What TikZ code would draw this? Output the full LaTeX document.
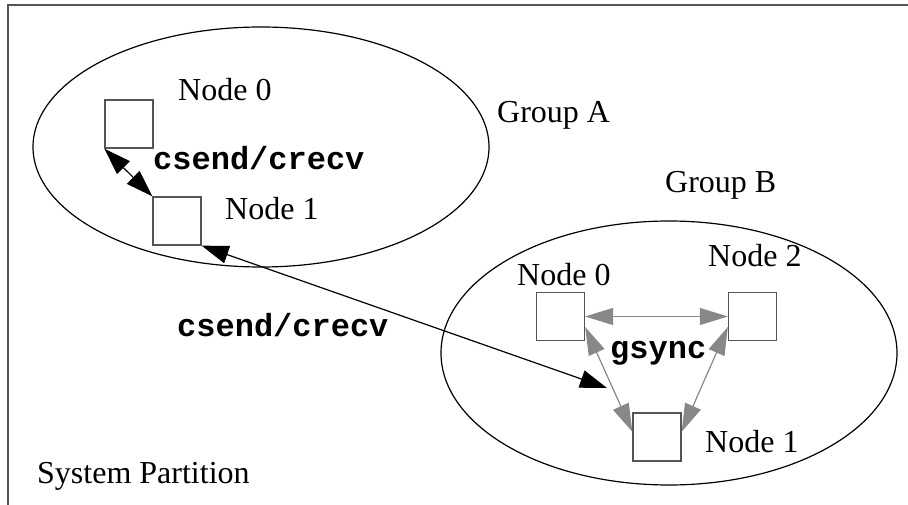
\documentclass[tikz,border=0pt]{standalone}
\usepackage{fontspec}
\setmainfont{Liberation Serif}
\setmonofont{Liberation Mono}
\usetikzlibrary{arrows.meta}
\definecolor{framegray}{HTML}{555555}
\definecolor{syncgray}{HTML}{888888}
\tikzset{
  proc/.style={draw=framegray, line width=1.3pt, fill=white, minimum size=48pt, inner sep=0pt},
  lbl/.style={anchor=base west, inner sep=0pt, font=\fontsize{32}{38}\selectfont},
  code/.style={anchor=base west, inner sep=0pt, font=\fontsize{32}{38}\selectfont\ttfamily\bfseries},
  group/.style={draw=black, line width=1.2pt},
  msg/.style={draw=black, line width=1.2pt, {Triangle[length=27pt,width=18pt]}-{Triangle[length=27pt,width=18pt]}},
  sync/.style={draw=syncgray, line width=1.2pt, {Triangle[length=28pt,width=17pt]}-{Triangle[length=28pt,width=17pt]}, syncgray}
}
\begin{document}
\begin{tikzpicture}[x=1pt, y=-1pt]
  \useasboundingbox (0,0) rectangle (908,505);
  % partition frame (top and left edges)
  \draw[framegray, line width=2pt] (908,5) -- (8,5) -- (8,505);

  % groups
  \draw[group] (261,147) ellipse [x radius=228, y radius=120];
  \draw[group] (669,353) ellipse [x radius=228, y radius=132];

  % group A nodes
  \node[proc] (a0) at (129,124) {};
  \node[proc] (a1) at (177,221) {};
  % group B nodes
  \node[proc] (b0) at (560.5,316.5) {};
  \node[proc] (b2) at (752.5,316.5) {};
  \node[proc] (b1) at (657,437) {};

  % labels
  \node[lbl] (la0) at (178,101) {Node 0};
  \node[lbl] (la1) at (225,220) {Node 1};
  \node[code] (lca) at (153,170) {csend/crecv};
  \node[lbl] (lga) at (497,123) {Group A};
  \node[lbl] (lgb) at (665,193) {Group B};
  \node[lbl] (lb0) at (517,285) {Node 0};
  \node[lbl] (lb2) at (708,266) {Node 2};
  \node[lbl] (lb1) at (705,452) {Node 1};
  \node[code] (lgs) at (610,358) {gsync};
  \node[code] (lcm) at (177,336) {csend/crecv};
  \node[lbl] (lsp) at (37,483) {System Partition};

  % message passing
  \coordinate (inb) at (607,388);
  \draw[msg] (a0.south west) -- (a1.north west);
  \draw[msg] (a1.south east) -- (inb);

  % global synchronisation within group B
  \draw[sync] (b0.east) -- (b2.west);
  \draw[sync] (b0.-23) -- (b1.168);
  \draw[sync] (b2.203) -- (b1.12);
\end{tikzpicture}
\end{document}
